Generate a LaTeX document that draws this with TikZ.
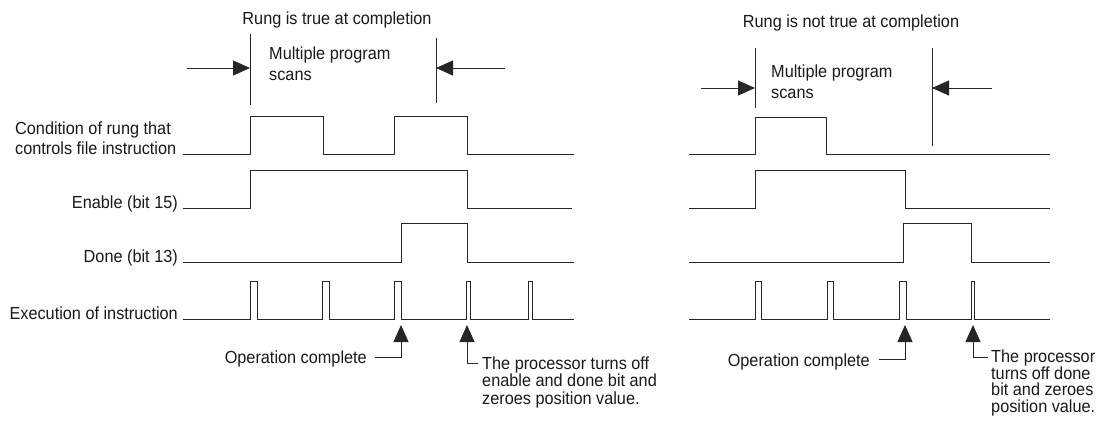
\documentclass[tikz,border=0pt]{standalone}
\usepackage{fontspec}
\setmainfont{Liberation Sans}[FakeStretch=0.93]
\usetikzlibrary{arrows.meta}
\newcommand\lbfont{\fontsize{17.5}{20}\selectfont}
\begin{document}
\begin{tikzpicture}[x=1pt,y=-1pt,
  sig/.style={draw=black!85, line width=1pt, line join=miter},
  mark line/.style={draw=black!85, line width=1pt},
  arr/.style={draw=black!85, line width=1pt, -{Triangle[length=17pt,width=15pt]}},
  lbl/.style={font=\lbfont, inner sep=0pt, text=black!90}]
\useasboundingbox (0,0) rectangle (1115,429);
% ---------------- left diagram ----------------
\node[lbl, anchor=base] (lt) at (337,24) {Rung is true at completion};
\node[lbl, anchor=base west, align=left, font=\fontsize{17.5}{21}\selectfont] (lm) at (269,80) {Multiple program\\scans};
\coordinate (lv1a) at (250,34); \coordinate (lv1b) at (250,105);
\coordinate (lv2a) at (436,38); \coordinate (lv2b) at (436,103);
\draw[mark line] (lv1a) -- (lv1b);
\draw[mark line] (lv2a) -- (lv2b);
\coordinate (la) at (187,68); \coordinate (ra) at (505,68);
\draw[arr] (la) -- (la -| lv1a);
\draw[arr] (ra) -- (ra -| lv2a);

\node[lbl, anchor=base west, align=left] (lc) at (15,154) {Condition of rung that\\controls file instruction};
\node[lbl, anchor=base east] (le) at (178,208) {Enable (bit 15)};
\node[lbl, anchor=base east] (ld) at (178,262) {Done (bit 13)};
\node[lbl, anchor=base east] (lx) at (178,319) {Execution of instruction};

\draw[sig] (183,154) -- (250,154) -- (250,116) -- (323,116) -- (323,154) -- (394,154) -- (394,116) -- (467,116) -- (467,154) -- (574,154);
\draw[sig] (183,208) -- (250,208) -- (250,170) -- (467,170) -- (467,208) -- (572,208);
\draw[sig] (183,262) -- (401,262) -- (401,223) -- (467,223) -- (467,262) -- (574,262);
\draw[sig] (183,319) -- (250,319) -- (250,281) -- (257,281) -- (257,319)
  -- (322,319) -- (322,281) -- (329,281) -- (329,319)
  -- (394,319) -- (394,281) -- (401,281) -- (401,319)
  -- (466,319) -- (466,281) -- (470,281) -- (470,319)
  -- (528,319) -- (528,281) -- (532,281) -- (532,319) -- (574,319);

\node[lbl, anchor=base east] (loc) at (367,363) {Operation complete};
\coordinate (lt1) at (401,325);
\draw[arr] ([xshift=8pt,yshift=6pt]loc.base east) -- ([yshift=6pt]loc.base east -| lt1) -- (lt1);
\node[lbl, anchor=base west, align=left, font=\fontsize{17.5}{17.5}\selectfont] (lp) at (482,404) {The processor turns off\\enable and done bit and\\zeroes position value.};
\coordinate (lt2) at (467,325);
\coordinate (lj2) at (478,363);
\draw[arr] (lj2) -| (lt2);

% ---------------- right diagram ----------------
\node[lbl, anchor=base] (rt) at (851,27) {Rung is not true at completion};
\node[lbl, anchor=base west, align=left, font=\fontsize{17.5}{21}\selectfont] (rm) at (771,98) {Multiple program\\scans};
\coordinate (rv1a) at (755,48); \coordinate (rv1b) at (755,108);
\coordinate (rv2a) at (932,48); \coordinate (rv2b) at (932,146);
\draw[mark line] (rv1a) -- (rv1b);
\draw[mark line] (rv2a) -- (rv2b);
\coordinate (rla) at (701,88); \coordinate (rra) at (992,88);
\draw[arr] (rla) -- (rla -| rv1a);
\draw[arr] (rra) -- (rra -| rv2a);

\draw[sig] (689,154) -- (755,154) -- (755,117) -- (826,117) -- (826,154) -- (1050,154);
\draw[sig] (689,208) -- (755,208) -- (755,170) -- (905,170) -- (905,208) -- (1050,208);
\draw[sig] (689,262) -- (903,262) -- (903,223) -- (971,223) -- (971,262) -- (1050,262);
\draw[sig] (689,319) -- (755,319) -- (755,281) -- (761,281) -- (761,319)
  -- (827,319) -- (827,281) -- (833,281) -- (833,319)
  -- (899,319) -- (899,281) -- (906,281) -- (906,319)
  -- (971,319) -- (971,281) -- (974,281) -- (974,319) -- (1050,319);

\node[lbl, anchor=base east] (roc) at (870,366) {Operation complete};
\coordinate (rt1) at (905,325);
\draw[arr] ([xshift=9pt,yshift=7pt]roc.base east) -- ([yshift=7pt]roc.base east -| rt1) -- (rt1);
\node[lbl, anchor=base west, align=left, font=\fontsize{17.5}{16.4}\selectfont] (rp) at (991,412) {The processor\\turns off done\\bit and zeroes\\position value.};
\coordinate (rt2) at (973,325);
\coordinate (rj2) at (988,357);
\draw[arr] (rj2) -| (rt2);
\end{tikzpicture}
\end{document}
